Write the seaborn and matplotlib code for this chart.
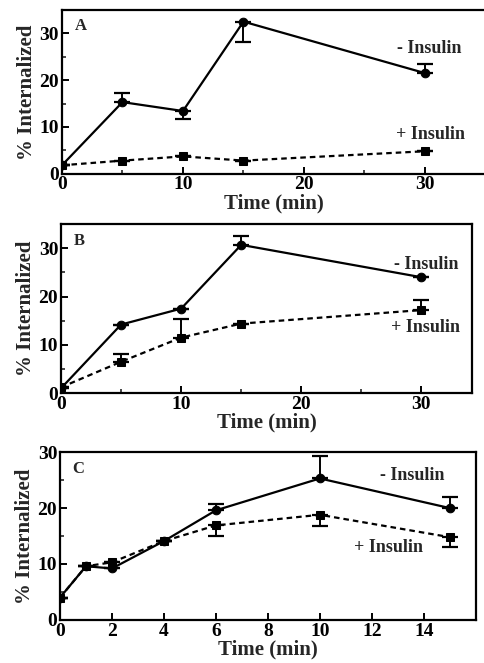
import numpy as np
import pandas as pd
import matplotlib
matplotlib.use("Agg")
import matplotlib.pyplot as plt
from matplotlib.ticker import MultipleLocator, FixedLocator
import seaborn as sns

# panel A
time_a = [0, 5, 10, 15, 30]
minus_a = [1.8, 15.3, 13.4, 32.5, 21.5]
minus_a_lo = [0, 0, 1.7, 4.3, 0]
minus_a_hi = [0, 1.9, 0, 0, 2.0]
plus_a = [1.8, 2.8, 3.7, 2.8, 4.8]
plus_a_lo = [0, 0, 0, 0, 0]
plus_a_hi = [0, 0, 0, 0, 0]

# panel B
time_b = [0, 5, 10, 15, 30]
minus_b = [1.0, 14.2, 17.5, 30.7, 24.0]
minus_b_lo = [0, 0, 0, 0, 0]
minus_b_hi = [0, 0, 0, 1.9, 0]
plus_b = [1.2, 6.5, 11.5, 14.4, 17.2]
plus_b_lo = [0, 0, 0, 0, 0]
plus_b_hi = [0, 1.6, 3.9, 0, 2.0]

# panel C
time_c = [0, 1, 2, 4, 6, 10, 15]
minus_c = [4.0, 9.6, 9.2, 14.1, 19.6, 25.3, 20.0]
minus_c_lo = [0, 0, 0, 0, 0, 0, 0]
minus_c_hi = [0, 0, 0, 0, 1.1, 4.0, 2.0]
plus_c = [4.0, 9.6, 10.3, 14.1, 16.9, 18.8, 14.8]
plus_c_lo = [0, 0, 0, 0, 1.9, 2.0, 1.7]
plus_c_hi = [0, 0, 0, 0, 0, 0, 0]

xticks_ab = [0, 10, 20, 30]
xticks_c = [0, 2, 4, 6, 8, 10, 12, 14]

sns.set_theme(style="ticks")
plt.rcParams['font.family'] = ['Liberation Serif', 'DejaVu Serif']

fig = plt.figure(figsize=(4.84, 6.63), dpi=100)

panels = [
    dict(letter="A", t=time_a, m=minus_a, mlo=minus_a_lo, mhi=minus_a_hi,
         p=plus_a, plo=plus_a_lo, phi=plus_a_hi, pos=[0.128, 0.738, 0.875, 0.247],
         xlim=(0, 35), ylim=(0, 35), xticks=xticks_ab, xmin=5,
         mtxt=(27.7, 26.8), ptxt=(27.6, 8.4), right=False),
    dict(letter="B", t=time_b, m=minus_b, mlo=minus_b_lo, mhi=minus_b_hi,
         p=plus_b, plo=plus_b_lo, phi=plus_b_hi, pos=[0.126, 0.407, 0.849, 0.255],
         xlim=(0, 34.2), ylim=(0, 35), xticks=xticks_ab, xmin=5,
         mtxt=(27.7, 26.7), ptxt=(27.5, 13.5), right=True),
    dict(letter="C", t=time_c, m=minus_c, mlo=minus_c_lo, mhi=minus_c_hi,
         p=plus_c, plo=plus_c_lo, phi=plus_c_hi, pos=[0.124, 0.065, 0.859, 0.253],
         xlim=(0, 16), ylim=(0, 30), xticks=xticks_c, xmin=None,
         mtxt=(12.3, 25.9), ptxt=(11.3, 12.9), right=True),
]

for pn in panels:
    ax = fig.add_axes(pn["pos"])
    df = pd.DataFrame({
        "time": list(pn["t"]) * 2,
        "pct": list(pn["m"]) + list(pn["p"]),
        "cond": ["- Insulin"] * len(pn["t"]) + ["+ Insulin"] * len(pn["t"]),
    })
    sns.lineplot(data=df, x="time", y="pct", style="cond", size="cond", ax=ax, color="black",
                 markers={"- Insulin": "o", "+ Insulin": "s"},
                 dashes={"- Insulin": "", "+ Insulin": (2.5, 1.8)},
                 sizes={"- Insulin": 1.6, "+ Insulin": 1.6},
                 markersize=6.2, markeredgecolor="black",
                 legend=False, zorder=3)
    # the squares are a bit smaller than the circles
    for ln in ax.lines:
        if ln.get_marker() == "s":
            ln.set_markersize(5.4)
    ax.errorbar(pn["t"], pn["m"], yerr=[pn["mlo"], pn["mhi"]], fmt="none",
                ecolor="black", elinewidth=1.4, capsize=5.5, capthick=1.6, zorder=2)
    ax.errorbar(pn["t"], pn["p"], yerr=[pn["plo"], pn["phi"]], fmt="none",
                ecolor="black", elinewidth=1.4, capsize=5.5, capthick=1.6, zorder=2)

    ax.set_xlim(*pn["xlim"])
    ax.set_ylim(*pn["ylim"])
    ax.xaxis.set_major_locator(FixedLocator(pn["xticks"]))
    if pn["xmin"]:
        ax.xaxis.set_minor_locator(MultipleLocator(pn["xmin"]))
    ax.yaxis.set_major_locator(MultipleLocator(10))
    ax.yaxis.set_minor_locator(MultipleLocator(5))
    ax.tick_params(which="major", direction="in", length=5, width=1.4,
                   labelsize=14, pad=2, colors="black")
    ax.tick_params(which="minor", direction="in", length=3, width=1.2)
    for lab in ax.get_xticklabels() + ax.get_yticklabels():
        lab.set_fontweight("bold")
    for side, sp in ax.spines.items():
        sp.set_linewidth(1.6)
        sp.set_color("black")
    ax.spines["right"].set_visible(pn["right"])

    ax.set_xlabel("Time (min)", fontsize=15, fontweight="bold", labelpad=0)
    ax.set_ylabel("% Internalized", fontsize=15, fontweight="bold", labelpad=2)
    ax.text(0.03, 0.95, pn["letter"], transform=ax.transAxes, va="top", ha="left",
            fontsize=12, fontweight="bold")
    ax.text(*pn["mtxt"], "- Insulin", fontsize=13, fontweight="bold", va="center", ha="left")
    ax.text(*pn["ptxt"], "+ Insulin", fontsize=13, fontweight="bold", va="center", ha="left")

fig.savefig("out.png", dpi=100)
